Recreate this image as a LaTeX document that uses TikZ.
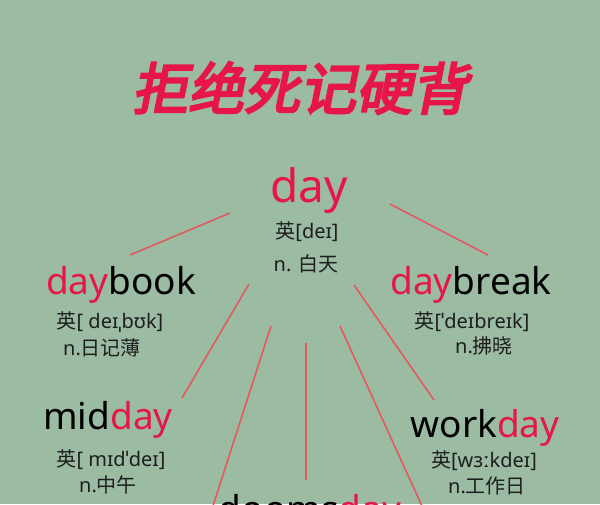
\documentclass[tikz,border=0pt]{standalone}
\usepackage{fontspec}
\setmainfont{Noto Sans}
\newfontfamily\cjk{Noto Sans CJK SC}
\newfontfamily\titlecjk[FakeSlant=0.2,FakeBold=4]{Noto Sans CJK SC}
\usetikzlibrary{positioning}
\definecolor{bgsage}{RGB}{155,187,163}
\definecolor{dayred}{RGB}{230,22,72}
\definecolor{linkred}{RGB}{228,88,96}
\definecolor{inkgray}{RGB}{30,30,30}
\newcommand{\ying}[1]{{\cjk 英}[#1]}
\newcommand{\red}[1]{{\color{dayred}#1}}

\begin{document}
\begin{tikzpicture}[x=1pt, y=-1pt,
    word/.style={anchor=base, inner sep=0pt, text=black, font=\fontsize{37}{40}\selectfont},
    info/.style={anchor=base, inner sep=0pt, text=inkgray, font=\fontsize{20}{22}\selectfont},
    link/.style={draw=linkred, line width=1.6pt}]
    % Background and frame
    \fill[bgsage] (0,0) rectangle (600,504);
    \useasboundingbox (0,0) rectangle (600,504);
    \clip (0,0) rectangle (600,504);

    % Title
    \node[text=dayred, font=\titlecjk\fontsize{56}{58}\selectfont] (title) at (300,88) {拒绝死记硬背};

    % Root word
    \node[word, text=dayred, font=\fontsize{46}{48}\selectfont] (day) at (309,202) {day};
    \node[info] (dayipa) at (307,238) {\ying{deɪ}};
    \node[info] (daymean) at (306,271) {n. {\cjk 白天}};

    % Derived words
    \node[word] (daybook) at (121,294) {\red{day}book};
    \node[info] (bookipa) at (110,328) {\ying{ deɪˌbʊk}};
    \node[info] (bookmean) at (102,355) {n.{\cjk 日记薄}};

    \node[word] (daybreak) at (471,294) {\red{day}break};
    \node[info] (breakipa) at (472,328) {\ying{ˈdeɪbreɪk}};
    \node[info] (breakmean) at (484,353) {n.{\cjk 拂晓}};

    \node[word] (midday) at (108,429) {mid\red{day}};
    \node[info] (midipa) at (111,466) {\ying{ mɪdˈdeɪ}};
    \node[info] (midmean) at (108,492) {n.{\cjk 中午}};

    \node[word] (workday) at (485,437) {work\red{day}};
    \node[info] (workipa) at (484,467) {\ying{wɜːkdeɪ}};
    \node[info] (workmean) at (487,493) {n.{\cjk 工作日}};

    \node[word] (doomsday) at (310,522) {dooms\red{day}};

    % Connector ends
    \coordinate (toBookA) at (230,213);  \coordinate (toBookB) at (130,255);
    \coordinate (toBreakA) at (390,204); \coordinate (toBreakB) at (488,255);
    \coordinate (toMidA) at (249,284);   \coordinate (toMidB) at (182,398);
    \coordinate (toDoomA) at (271,326);  \coordinate (toDoomB) at (213,506);
    \coordinate (toDoomC) at (306,343);  \coordinate (toDoomD) at (306,480);
    \coordinate (toDoomE) at (340,326);  \coordinate (toDoomF) at (422,506);
    \coordinate (toWorkA) at (354,285);  \coordinate (toWorkB) at (434,400);

    % Connectors
    \draw[link] (toBookA) -- (toBookB);
    \draw[link] (toBreakA) -- (toBreakB);
    \draw[link] (toMidA) -- (toMidB);
    \draw[link] (toDoomA) -- (toDoomB);
    \draw[link] (toDoomC) -- (toDoomD);
    \draw[link] (toDoomE) -- (toDoomF);
    \draw[link] (toWorkA) -- (toWorkB);
\end{tikzpicture}
\end{document}
